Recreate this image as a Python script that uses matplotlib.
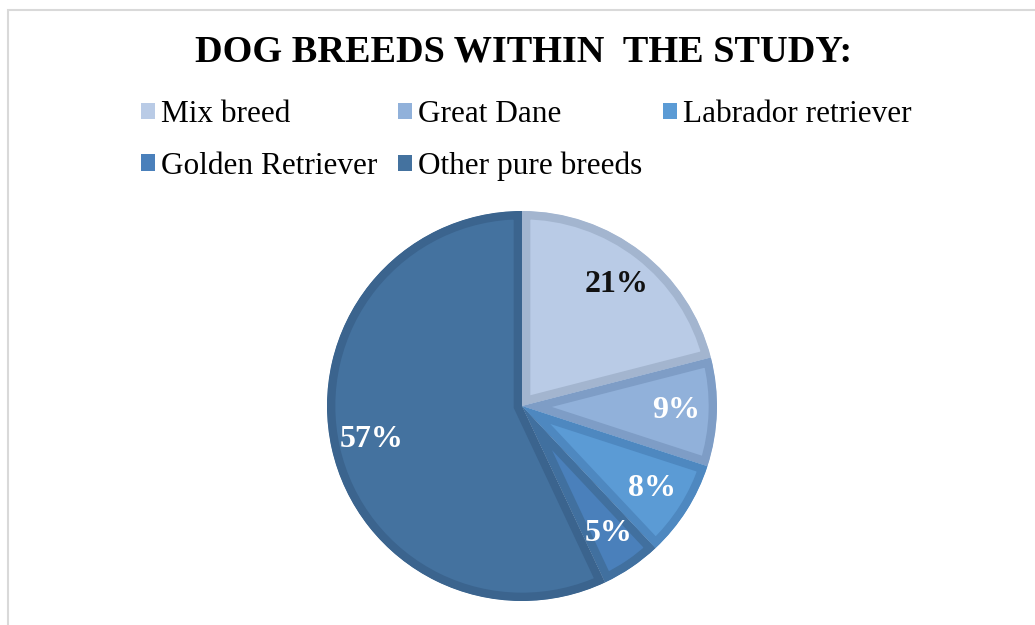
import matplotlib.pyplot as plt
from matplotlib.patches import Rectangle

# data
breeds = ['Mix breed', 'Great Dane', 'Labrador retriever', 'Golden Retriever', 'Other pure breeds']
shares = [21, 9, 8, 5, 57]
fill_colors = ['#b9cbe6', '#91b1da', '#5b9bd5', '#4a80bb', '#44729f']
edge_colors = ['#a3b5cf', '#7e9dc6', '#4e88c0', '#41709f', '#3b648e']
label_colors = ['#111111', 'white', 'white', 'white', 'white']

plt.rcParams['font.family'] = ['Liberation Serif', 'DejaVu Serif']

fig = plt.figure(figsize=(10.35, 6.25), dpi=100)
ax = fig.add_axes([327 / 1035, 24 / 625, 390 / 1035, 390 / 625])

wedges, texts, autotexts = ax.pie(shares, colors=fill_colors, startangle=90, counterclock=False,
                                  autopct='%d%%', pctdistance=0.79, radius=1,
                                  textprops={'fontsize': 23, 'fontweight': 'bold'})
ax.set_xlim(-1, 1)
ax.set_ylim(-1, 1)
ax.set_aspect('equal')
for w, ec in zip(wedges, edge_colors):
    # inner border like the excel bevel: thick edge clipped to the wedge
    w.set_edgecolor(ec)
    w.set_linewidth(12)
    w.set_clip_on(True)
    w.set_clip_path(w.get_path(), w.get_transform())
for t, c in zip(autotexts, label_colors):
    t.set_color(c)

fig.text(0.506, 0.916, 'DOG BREEDS WITHIN  THE STUDY:', ha='center', va='center',
         fontsize=27.5, fontweight='bold')

# legend, reordered so the columns fill like the original rows
order = [0, 3, 1, 4, 2]
handles = []
for i in order:
    handles.append(Rectangle((0, 0), 1, 1, facecolor=fill_colors[i], edgecolor='none'))
leg = fig.legend(handles, [breeds[i] for i in order], ncol=3, loc='upper left',
                 bbox_to_anchor=(113 / 1035, 1 - 72 / 625), frameon=False,
                 fontsize=22.5, handlelength=0.45, handleheight=0.45, handletextpad=0.2,
                 columnspacing=0.65, labelspacing=0.72)

# grey frame of the chart area
fig.patches.append(Rectangle((8 / 1035, -0.01), 1.1, 0.994, transform=fig.transFigure,
                             fill=False, edgecolor='#d9d9d9', linewidth=1.5))

plt.savefig('out.png')
